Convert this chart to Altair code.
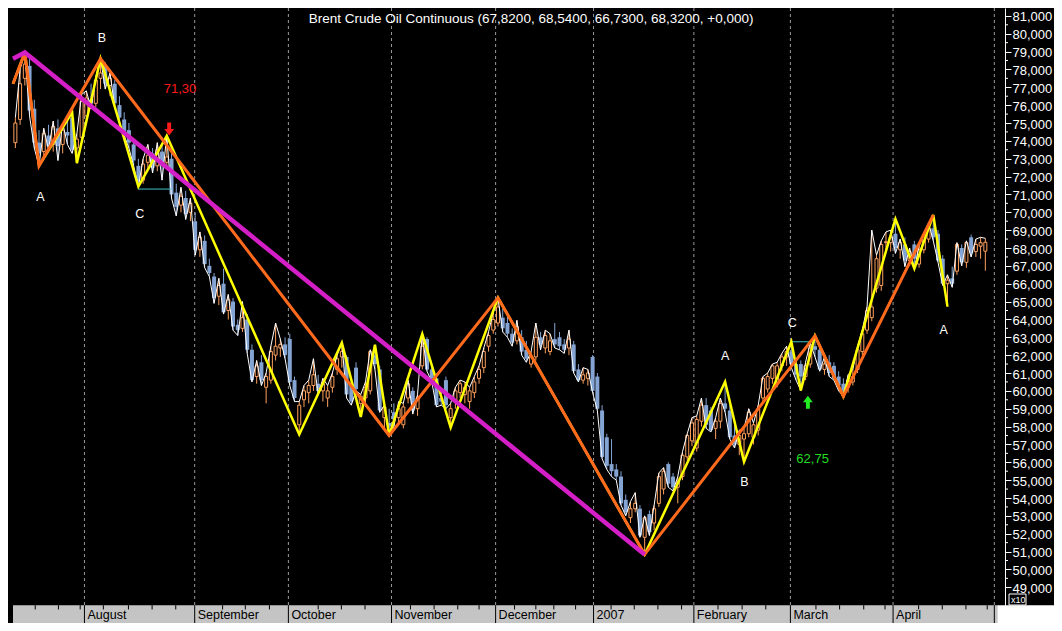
import altair as alt
import pandas as pd

FONT = "Liberation Sans"
W = 997          # plot area width (reference plot 1012 px scaled to fit the page)
H = 615          # plot area height incl. bottom date band
PAD_R = 49       # room for the right price axis

ORANGE_C = "#ffa15e"
BLUE_C = "#84a4d4"

# ---------------- data ----------------
opens = [
    73.9, 75.2, 77.5, 78.2, 75.8, 73.9, 73.4, 74.3, 73.8, 74.7, 73.8, 74.5, 75.3, 73.6, 74.2,
    75.4, 76.3, 76.1, 77.5, 78.2, 77.1, 77.2, 76.0, 75.2, 74.6, 73.8, 72.6, 71.8, 72.8, 73.3, 72.6, 73.4, 72.8, 73.0, 71.1, 70.4, 70.8, 70.0,
    69.5, 67.9, 68.4, 67.0, 66.4, 65.3, 66.0, 64.5, 65.0, 63.7, 63.5, 64.0, 62.3, 60.8, 61.6, 60.2, 60.6, 62.0, 62.4, 62.6,
    62.9, 60.6, 58.1, 59.5, 59.9, 60.3, 60.4, 60.0, 59.6, 60.2, 61.2, 61.9, 61.9, 60.4, 61.3, 59.3, 59.6, 60.0, 62.0, 61.2, 58.5, 58.2,
    58.8, 58.5, 58.1, 59.6, 60.0, 59.0, 61.4, 62.9, 61.2, 60.7, 59.6, 60.6, 58.5, 59.4, 59.9, 59.8, 59.4, 59.9, 60.7, 61.3, 62.5, 63.4,
    63.8, 64.1, 63.8, 63.2, 62.8, 63.0, 62.3, 61.5, 61.9, 63.0, 62.4, 62.2, 62.9, 63.0, 62.6, 62.4, 62.6, 61.2, 60.6, 60.7, 61.9,
    60.8, 58.9, 57.4, 55.9, 55.6, 55.2, 53.9, 52.9, 53.4, 53.4, 51.8, 53.1, 52.6, 53.7, 54.5, 55.9, 55.2, 54.6, 55.2, 56.3, 57.2,
    56.8, 58.3, 59.2, 58.9, 57.9, 58.3, 59.3, 58.9, 57.5, 57.0, 57.3, 57.6, 57.4, 57.8, 59.6, 60.1, 60.7, 60.5, 61.4, 61.9,
    62.2, 61.5, 61.5, 60.8, 61.5, 62.5, 62.3, 61.2, 61.6, 61.4, 60.8, 60.4, 60.2, 60.5, 61.2, 62.2, 63.4, 64.1, 65.75, 65.9, 68.3, 68.3,
    68.8, 67.9, 68.2, 67.3, 68.2, 67.1, 67.9, 68.5, 69.1, 68.8, 67.4, 66.0, 66.3, 66.7, 68.0, 67.2, 68.6, 67.8, 68.1, 67.82,
]
highs = [
    75.3, 78.0, 78.95, 78.6, 76.3, 74.6, 74.7, 74.9, 75.1, 75.2, 75.0, 75.5, 75.6, 74.4, 76.6,
    76.8, 77.2, 77.6, 78.6, 78.4, 77.8, 77.4, 76.5, 75.6, 75.0, 74.1, 73.0, 73.0, 73.8, 73.6, 73.9, 73.8, 74.28, 73.3, 71.6, 71.4, 71.2, 70.8,
    70.0, 68.9, 68.7, 67.4, 66.6, 66.3, 66.85, 65.4, 65.2, 64.0, 65.0, 64.3, 62.6, 61.7, 62.0, 61.0, 62.5, 63.8, 62.9, 63.0,
    63.2, 60.8, 59.4, 60.3, 60.6, 61.8, 60.9, 60.7, 60.3, 61.0, 62.0, 62.69, 62.0, 60.6, 61.6, 59.8, 60.5, 62.3, 62.58, 61.4, 59.2, 59.0,
    59.3, 59.4, 59.3, 60.6, 60.2, 59.8, 63.19, 63.0, 61.5, 61.0, 60.2, 60.8, 59.3, 60.2, 60.6, 60.5, 60.2, 60.8, 61.4, 62.4, 63.3, 64.4,
    65.21, 64.6, 64.2, 63.5, 63.95, 63.4, 62.8, 62.2, 63.8, 63.3, 63.4, 63.2, 63.8, 63.3, 62.9, 63.4, 62.8, 61.5, 61.3, 61.2, 62.0,
    61.0, 59.2, 57.6, 57.3, 55.9, 55.5, 54.2, 53.8, 54.3, 53.6, 53.0, 53.3, 53.6, 55.4, 55.7, 56.0, 55.4, 55.2, 56.6, 57.6, 58.5,
    58.6, 59.6, 59.6, 59.1, 58.5, 59.6, 60.51, 59.2, 58.2, 57.8, 57.9, 59.0, 58.2, 59.2, 60.8, 61.0, 61.5, 61.6, 62.1, 62.5,
    62.75, 61.8, 61.7, 61.6, 62.7, 63.08, 62.5, 61.9, 62.0, 61.6, 61.1, 60.7, 60.9, 61.2, 62.5, 63.4, 64.7, 69.0, 67.6, 68.4, 68.9, 69.0,
    69.63, 68.5, 68.6, 68.0, 68.4, 68.1, 68.8, 69.4, 69.85, 69.0, 67.6, 66.5, 66.96, 68.3, 68.2, 68.4, 68.75, 68.5, 68.6, 68.54,
]
lows = [
    73.6, 74.9, 77.1, 75.4, 73.6, 72.6, 73.1, 73.5, 73.4, 72.9, 73.3, 73.8, 73.3, 72.75, 74.0,
    75.1, 75.8, 75.9, 76.9, 76.9, 76.5, 75.9, 75.0, 74.3, 73.6, 72.6, 71.44, 71.6, 72.5, 72.2, 72.3, 71.8, 72.6, 70.8, 69.8, 70.0, 69.6, 69.5,
    67.6, 67.5, 66.9, 66.4, 64.9, 64.8, 64.3, 64.0, 63.4, 63.1, 63.3, 62.1, 60.5, 60.4, 60.3, 59.3, 60.4, 61.7, 61.9, 61.8,
    60.3, 59.4, 57.56, 59.1, 59.3, 60.0, 59.8, 59.4, 59.1, 59.9, 60.9, 61.3, 59.6, 59.2, 60.0, 58.54, 59.1, 59.8, 61.2, 58.8, 57.9, 57.5,
    58.0, 58.1, 57.9, 59.3, 58.7, 58.6, 61.2, 61.1, 60.5, 59.1, 59.2, 59.0, 57.94, 59.0, 59.6, 59.3, 59.0, 59.6, 60.4, 61.0, 62.2, 63.2,
    63.6, 63.3, 63.0, 62.5, 62.6, 62.0, 61.6, 61.3, 61.7, 62.3, 62.1, 62.0, 62.4, 62.3, 62.1, 62.0, 61.0, 60.5, 60.4, 60.3, 59.9,
    58.9, 56.2, 55.6, 55.2, 55.0, 53.6, 53.0, 52.6, 53.2, 51.8, 50.84, 51.9, 52.2, 53.5, 54.2, 54.6, 54.4, 53.7, 55.0, 56.1, 56.9,
    56.6, 58.0, 57.9, 57.7, 57.3, 57.9, 58.8, 57.3, 56.8, 56.4, 56.03, 57.4, 57.0, 57.5, 59.3, 59.9, 60.4, 60.2, 61.1, 61.4,
    61.3, 60.6, 60.02, 60.6, 61.3, 61.9, 61.1, 60.9, 60.8, 60.6, 60.0, 59.69, 59.9, 60.3, 61.0, 62.0, 63.2, 63.9, 65.5, 65.6, 67.8, 67.8,
    67.7, 67.4, 66.96, 67.0, 66.85, 66.9, 67.7, 68.3, 68.4, 67.2, 65.9, 64.72, 65.8, 66.5, 67.0, 66.9, 67.5, 67.5, 67.4, 66.73,
]
closes = [
    75.0, 77.2, 78.3, 75.7, 73.9, 73.3, 74.4, 73.7, 74.8, 73.7, 74.6, 74.3, 73.5, 74.1, 76.2,
    76.4, 76.1, 77.4, 77.8, 77.2, 77.5, 76.1, 75.3, 74.5, 73.9, 72.9, 71.7, 72.7, 73.2, 72.5, 73.5, 72.7, 73.1, 71.0, 70.3, 70.9, 69.9, 70.5,
    67.9, 68.6, 67.1, 66.6, 65.2, 65.9, 64.4, 65.1, 63.6, 63.4, 64.1, 62.3, 60.6, 61.4, 60.6, 60.8, 62.2, 62.5, 62.6, 62.0,
    60.5, 59.6, 59.2, 60.0, 60.3, 60.9, 60.0, 60.4, 60.0, 60.8, 61.8, 62.2, 59.8, 59.4, 60.1, 59.7, 60.2, 62.2, 61.5, 58.9, 59.1, 58.0,
    58.4, 59.0, 59.1, 60.4, 58.9, 59.6, 62.5, 61.2, 60.7, 59.2, 59.4, 59.2, 59.0, 60.0, 60.4, 60.2, 60.0, 60.5, 61.2, 62.2, 63.1, 64.0,
    64.7, 63.5, 63.2, 62.7, 63.6, 62.2, 61.8, 61.9, 63.0, 62.6, 63.1, 62.8, 62.6, 62.5, 62.3, 62.9, 61.1, 60.6, 60.9, 61.0, 60.0,
    59.0, 56.3, 55.8, 55.5, 55.2, 53.7, 53.2, 53.4, 53.7, 51.9, 52.9, 52.1, 53.4, 55.2, 55.5, 54.8, 54.6, 54.9, 56.4, 57.5, 58.2,
    58.4, 59.2, 58.1, 57.8, 58.3, 59.3, 59.0, 57.4, 57.0, 57.5, 57.6, 58.8, 58.1, 59.0, 60.7, 60.8, 61.4, 61.4, 61.9, 62.2,
    61.5, 60.9, 60.8, 61.4, 62.4, 62.3, 61.2, 61.5, 61.0, 60.7, 60.3, 60.0, 60.6, 60.8, 62.3, 63.2, 64.5, 64.7, 67.4, 68.2, 68.35, 68.6,
    68.0, 68.3, 67.3, 67.8, 67.4, 67.9, 68.7, 69.1, 68.6, 67.3, 66.0, 66.2, 66.0, 68.2, 67.2, 68.3, 67.7, 68.2, 68.3, 68.32,
]

month_names = ["August", "September", "October", "November", "December", "2007",
               "February", "March", "April", "May"]
month_pos = [15.1, 38.4, 58.2, 80.0, 102.0, 122.7, 143.9, 164.3, 186.0, 207.4]
week_pos = [4.7, 9.6, 14.2, 19.1, 24.4, 29.4, 34.4, 44.3, 49.1, 54.2, 64.5, 69.4, 74.4,
            84.0, 89.0, 94.0, 98.5, 106.0, 110.5, 114.3, 118.9, 126.4, 131.3, 136.3, 141.3,
            149.0, 154.1, 159.1, 169.7, 174.7, 179.8, 184.3, 191.4, 196.4, 201.4, 205.9]

# zigzag pivots: candle index + whether it's a high (H) or low (L)
yellow_piv = [2, 5, 12, 13, 18, 26, 32, 60, 69, 73, 76, 79, 86, 92, 102, 133,
              150, 154, 164, 166, 169, 175, 186, 190, 194, 197]
yellow_kind = ["H", "L"] * 13
orange_piv = [2, 5, 18, 79, 102, 133, 169, 175, 194]
orange_kind = ["H", "L", "H", "L", "H", "L", "H", "L", "H"]
orange_start = 77.2
magenta_piv = [2, 133]
magenta_kind = ["H", "L"]
magenta_start = 78.6

# annotations
letters = ["A", "B", "C", "A", "B", "C", "A"]
letter_x = [5.8, 18.8, 26.8, 150.5, 154.6, 164.7, 196.7]
letter_y = [70.84, 79.74, 69.91, 61.93, 54.88, 63.79, 63.40]
level_vals = [71.30, 62.75]
level_x0 = [26.4, 164.3]
level_x1 = [33.4, 168.6]
level_txt = ["71,30", "62,75"]
level_txt_x = [35.3, 169.0]
level_txt_y = [76.9, 56.19]
arrow_x = [33.0, 168.0]
arrow_y = [74.66, 59.36]
title_text = "Brent Crude Oil Continuous (67,8200, 68,5400, 66,7300, 68,3200, +0,000)"
y_labels = list(range(49, 82))
y_minor = [v + 0.5 for v in range(49, 81)]

# ---------------- tables ----------------
n = min(len(opens), len(highs), len(lows), len(closes))
candles = pd.DataFrame({
    "x": [i + 0.5 for i in range(n)],
    "o": opens[:n], "h": highs[:n], "l": lows[:n], "c": closes[:n],
})
candles["dir"] = ["up" if c >= o else "down" for o, c in zip(candles.o, candles.c)]

# thin white line: each bar's extreme in its own direction (high for up bars, low for down bars)
white_df = pd.DataFrame({
    "x": candles.x,
    "v": [h if d == "up" else l for h, l, d in zip(candles.h, candles.l, candles.dir)],
})


def pivots(idx, kind, start=None):
    xs_, vs = [], []
    if start is not None:
        xs_.append(0.0)
        vs.append(start)
    for i, k in zip(idx, kind):
        xs_.append(i + 0.5)
        vs.append(highs[i] if k == "H" else lows[i])
    return pd.DataFrame({"x": xs_, "v": vs})


yellow_df = pivots(yellow_piv, yellow_kind, orange_start)
orange_df = pivots(orange_piv, orange_kind, orange_start)
magenta_df = pivots(magenta_piv, magenta_kind, magenta_start)

months_df = pd.DataFrame({"pos": month_pos, "name": month_names})
week_df = pd.DataFrame({"pos": week_pos})
letters_df = pd.DataFrame({"x": letter_x, "y": letter_y, "t": letters})
levels_df = pd.DataFrame({"x0": level_x0, "x1": level_x1, "v": level_vals})
red_df = pd.DataFrame({"x": [level_txt_x[0]], "y": [level_txt_y[0]], "t": [level_txt[0]]})
green_df = pd.DataFrame({"x": [level_txt_x[1]], "y": [level_txt_y[1]], "t": [level_txt[1]]})
red_arrow = pd.DataFrame({"x": [arrow_x[0]], "y": [arrow_y[0]]})
green_arrow = pd.DataFrame({"x": [arrow_x[1]], "y": [arrow_y[1]]})
title_df = pd.DataFrame({"x": [109.5], "y": [80.84], "t": [title_text]})
minor_df = pd.DataFrame({"v": y_minor})
one = pd.DataFrame({"k": [0]})

# ---------------- scales / helpers ----------------
xs = alt.Scale(domain=[0, 208.6], nice=False, zero=False)
ys = alt.Scale(domain=[47.0, 81.44], nice=False, zero=False)

yaxis = alt.Axis(
    orient="right", values=y_labels,
    labelExpr="replace(format(datum.value, '.3f'), '.', ',')",
    domainColor="white", domainWidth=1, tickColor="white", tickWidth=1, tickSize=6,
    labelColor="white", labelFont=FONT, labelFontSize=13, labelPadding=1,
    labelAlign="left", labelBaseline="middle", labelOffset=1,
    grid=False, title=None, labelOverlap=False, labelFlush=False, labelBound=False,
)


def X(f):
    return alt.X(f, type="quantitative", scale=xs, axis=None)


def XD(v):
    return alt.XDatum(v, type="quantitative", scale=xs, axis=None)


def Y(f):
    return alt.Y(f, type="quantitative", scale=ys, axis=yaxis)


def YD(v):
    return alt.YDatum(v, type="quantitative", scale=ys, axis=yaxis)


DOWN_ARROW = "M-0.3,-1 L0.3,-1 L0.3,0 L0.75,0 L0,1 L-0.75,0 L-0.3,0 Z"
UP_ARROW = "M-0.3,1 L0.3,1 L0.3,0 L0.75,0 L0,-1 L-0.75,0 L-0.3,0 Z"

# ---------------- layers ----------------
wicks = alt.Chart(candles).mark_rule(strokeWidth=1).encode(
    x=X("x"), y=Y("l"), y2="h",
    color=alt.Color("dir:N", scale=alt.Scale(domain=["up", "down"], range=[ORANGE_C, BLUE_C]),
                    legend=None))

band = alt.Chart(one).mark_rect(color="#c4c4c4").encode(
    x=XD(0.0), x2=alt.X2Datum(208.0), y=YD(48.0), y2=alt.Y2Datum(47.0))

grid = alt.Chart(months_df).mark_rule(color="#9a9a9a", strokeDash=[3, 3], strokeWidth=1).encode(
    x=X("pos"), y=YD(81.44), y2=alt.Y2Datum(48.0))

band_sep = alt.Chart(months_df).mark_rule(color="black", strokeWidth=1).encode(
    x=X("pos"), y=YD(48.0), y2=alt.Y2Datum(47.0))

weeks = alt.Chart(week_df).mark_rule(color="black", strokeWidth=1).encode(
    x=X("pos"), y=YD(48.0), y2=alt.Y2Datum(47.76))

month_txt = alt.Chart(months_df).mark_text(
    align="left", baseline="middle", dx=3, font=FONT, fontSize=12.5, color="black").encode(
    x=X("pos"), y=YD(47.45), text="name:N")

corner = alt.Chart(one).mark_rect(color="white").encode(
    x=XD(208.0), x2=alt.value(W + PAD_R), y=YD(48.0), y2=alt.Y2Datum(47.0))

up_bodies = alt.Chart(candles).transform_filter("datum.dir == 'up'").mark_bar(
    size=3, fill="black", stroke=ORANGE_C, strokeWidth=1).encode(
    x=X("x"), y=Y("o"), y2="c")

down_bodies = alt.Chart(candles).transform_filter("datum.dir == 'down'").mark_bar(
    size=4, color=BLUE_C).encode(x=X("x"), y=Y("o"), y2="c")

white_line = alt.Chart(white_df).mark_line(color="white", strokeWidth=1).encode(
    x=X("x"), y=Y("v"))

levels = alt.Chart(levels_df).mark_rule(color="#3ec4c4", strokeWidth=1).encode(
    x=X("x0"), x2="x1", y=Y("v"))

yellow = alt.Chart(yellow_df).mark_line(color="#ffff00", strokeWidth=2.5).encode(x=X("x"), y=Y("v"))
orange = alt.Chart(orange_df).mark_line(color="#ff6a1c", strokeWidth=3).encode(x=X("x"), y=Y("v"))
magenta = alt.Chart(magenta_df).mark_line(color="#d41ec6", strokeWidth=4.5).encode(x=X("x"), y=Y("v"))

letter_marks = alt.Chart(letters_df).mark_text(font=FONT, fontSize=12.5, color="white").encode(
    x=X("x"), y=Y("y"), text="t:N")
red_txt = alt.Chart(red_df).mark_text(font=FONT, fontSize=13, color="#ff1a1a").encode(
    x=X("x"), y=Y("y"), text="t:N")
green_txt = alt.Chart(green_df).mark_text(font=FONT, fontSize=13, color="#22dd22").encode(
    x=X("x"), y=Y("y"), text="t:N")
red_arr = alt.Chart(red_arrow).mark_point(shape=DOWN_ARROW, filled=True, size=170, opacity=1,
                                          color="#ff1a1a", strokeWidth=0).encode(x=X("x"), y=Y("y"))
green_arr = alt.Chart(green_arrow).mark_point(shape=UP_ARROW, filled=True, size=170, opacity=1,
                                              color="#22ee22", strokeWidth=0).encode(x=X("x"), y=Y("y"))

title = alt.Chart(title_df).mark_text(font=FONT, fontSize=13.5, color="white").encode(
    x=X("x"), y=Y("y"), text="t:N")

minor = alt.Chart(minor_df).mark_rule(color="white", strokeWidth=1).encode(
    x=alt.value(W), x2=alt.value(W + 3), y=Y("v"))

x10_box = alt.Chart(one).mark_rect(fill="black", stroke="white", strokeWidth=1).encode(
    x=alt.value(W + 4), x2=alt.value(W + 21), y=alt.value(586), y2=alt.value(597))
x10_txt = alt.Chart(one).mark_text(font=FONT, fontSize=9, color="white", align="left",
                                   baseline="middle").encode(
    x=alt.value(W + 6), y=alt.value(591.5), text=alt.value("x10"))

chart = alt.layer(
    wicks, band, grid, band_sep, weeks, month_txt, corner,
    up_bodies, down_bodies, white_line, levels,
    yellow, orange, magenta,
    letter_marks, red_txt, green_txt, red_arr, green_arr, title,
    minor, x10_box, x10_txt,
).properties(
    width=W, height=H,
    autosize=alt.AutoSizeParams(type="none"),
    padding={"left": 0, "top": 0, "right": PAD_R, "bottom": 0},
    background="#000000",
).configure_view(stroke=None)

chart.save("out.html", embed_options={"renderer": "svg", "actions": False})
